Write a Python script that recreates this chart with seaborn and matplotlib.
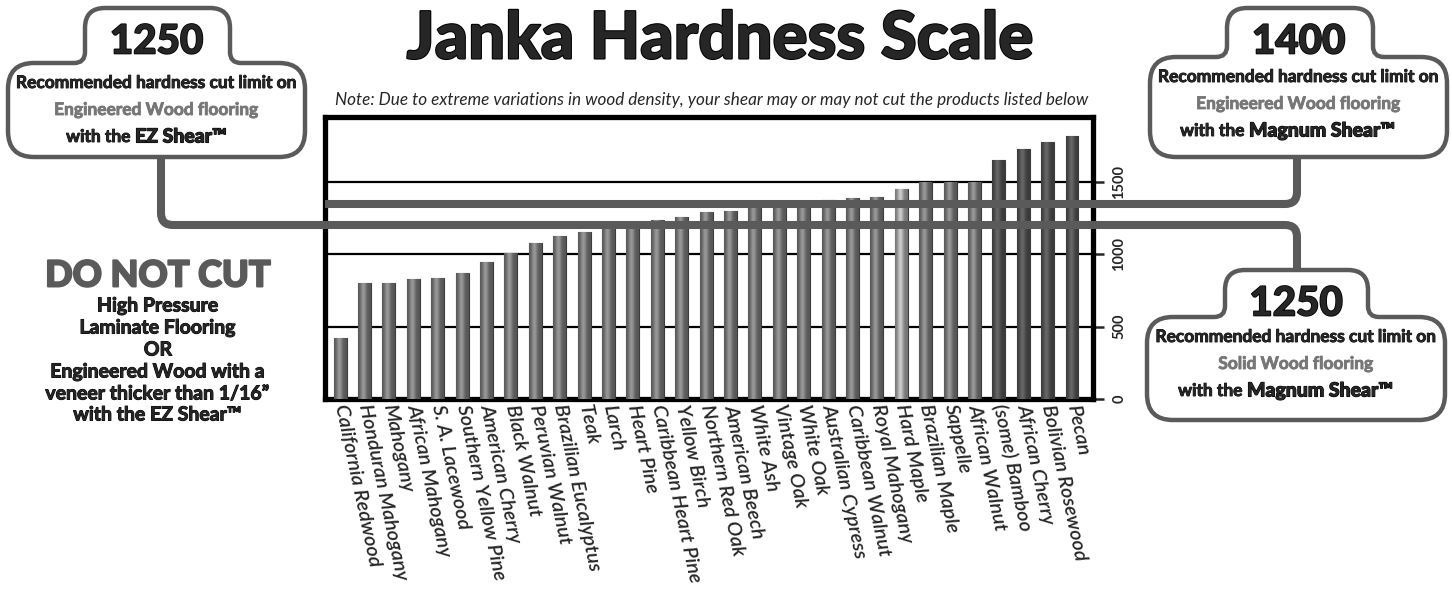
import numpy as np
import pandas as pd
import seaborn as sns
import matplotlib.pyplot as plt
import matplotlib.colors as mcolors
import matplotlib.patheffects as pe
from matplotlib.path import Path
from matplotlib.patches import PathPatch

# wood species and janka hardness (lbf)
woods = ['California Redwood', 'Honduran Mahogany', 'Mahogany', 'African Mahogany',
         'S. A. Lacewood', 'Southern Yellow Pine', 'American Cherry', 'Black Walnut',
         'Peruvian Walnut', 'Brazilian Eucalyptus', 'Teak', 'Larch', 'Heart Pine',
         'Caribbean Heart Pine', 'Yellow Birch', 'Northern Red Oak', 'American Beech',
         'White Ash', 'Vintage Oak', 'White Oak', 'Australian Cypress', 'Caribbean Walnut',
         'Royal Mahogany', 'Hard Maple', 'Brazilian Maple', 'Sappelle', 'African Walnut',
         '(some) Bamboo', 'African Cherry', 'Bolivian Rosewood', 'Pecan']
hardness = [420, 800, 800, 830, 840, 870, 950, 1010, 1080, 1125, 1155, 1200, 1225,
            1240, 1260, 1290, 1300, 1320, 1320, 1360, 1375, 1390, 1400, 1450, 1500,
            1500, 1500, 1650, 1730, 1780, 1820]
tones = ['mid'] * 23 + ['light'] + ['mid'] * 3 + ['dark'] * 4
y_ticks = [0, 500, 1000, 1500]

tone_colors = {'mid': '#838383', 'light': '#b0b0b0', 'dark': '#585858'}
line_gray = '#5a5a5a'

title = 'Janka Hardness Scale'
note = ('Note: Due to extreme variations in wood density, your shear may or may not '
        'cut the products listed below')
dnc_head = 'DO NOT CUT'
dnc_lines = ['High Pressure', 'Laminate Flooring', 'OR', 'Engineered Wood with a',
             'veneer thicker than 1/16\u201d', 'with the EZ Shear\u2122']

callout_nums = ['1250', '1400', '1250']
callout_floor = ['Engineered Wood flooring', 'Engineered Wood flooring', 'Solid Wood flooring']
callout_shear = ['EZ Shear', 'Magnum Shear', 'Magnum Shear']

sns.set_style('white')
plt.rcParams['font.family'] = ['Lato', 'DejaVu Sans']


def heavy(w, c='black'):
    return [pe.withStroke(linewidth=w, foreground=c)]


fig = plt.figure(figsize=(14.52, 6.04), dpi=100)
W, H = 1452, 604
ax = fig.add_axes([325 / W, 1 - 399 / H, (1093 - 325) / W, (399 - 117) / H])

df = pd.DataFrame({'wood': woods, 'hardness': hardness})
palette = [tone_colors[t] for t in tones]
sns.barplot(data=df, x='wood', y='hardness', hue='wood', palette=palette, legend=False,
            width=0.53, edgecolor='#3c3c3c', linewidth=0.8, ax=ax, zorder=3)

# cylinder shading on each bar
t = np.linspace(0, 1, 64)
shade = 0.66 + 0.5 * np.exp(-((t - 0.42) / 0.24) ** 2)
for patch, tone in zip(ax.patches, tones):
    base = np.array(mcolors.to_rgb(tone_colors[tone]))
    img = np.clip(base[None, None, :] * shade[None, :, None], 0, 1)
    x0, w, h = patch.get_x(), patch.get_width(), patch.get_height()
    im = ax.imshow(img, extent=[x0, x0 + w, 0, h], aspect='auto', zorder=3.5,
                   interpolation='bilinear')
    im.set_clip_path(patch)

ax.set_xlim(-0.62, 30.86)
ax.set_ylim(0, 1950)
ax.set_xlabel('')
ax.set_ylabel('')
ax.set_yticks(y_ticks)
ax.set_axisbelow(True)
ax.yaxis.grid(True, color='black', lw=1.6)
ax.xaxis.grid(False)
for s in ax.spines.values():
    s.set_visible(True)
    s.set_color('black')
    s.set_linewidth(3.8)

ax.yaxis.tick_right()
ax.tick_params(axis='y', direction='out', length=8, width=1.8, pad=6, labelsize=10.5,
               labelrotation=90, right=True, left=False)
for lab in ax.get_yticklabels():
    lab.set_fontweight('bold')
    lab.set_va('center')
ax.tick_params(axis='x', length=0, pad=4)
ax.set_xticks(range(len(woods)))
ax.set_xticklabels(woods, rotation=-78, ha='left', va='center', rotation_mode='anchor',
                   fontstyle='italic', fontsize=14.5, fontweight='semibold')

# overlay in pixel coords for the callouts
ov = fig.add_axes([0, 0, 1, 1], zorder=5)
ov.set_xlim(0, W)
ov.set_ylim(H, 0)
ov.axis('off')


def rounded(pts, radii, closed=True):
    verts, codes = [], []
    n = len(pts)
    for i in range(n):
        p = np.array(pts[i], float)
        if not closed and (i == 0 or i == n - 1):
            verts.append(p)
            codes.append(Path.MOVETO if i == 0 else Path.LINETO)
            continue
        prev = np.array(pts[i - 1], float)
        nxt = np.array(pts[(i + 1) % n], float)
        r = radii[i]
        a = p + (prev - p) / np.linalg.norm(prev - p) * r
        b = p + (nxt - p) / np.linalg.norm(nxt - p) * r
        verts.append(a)
        codes.append(Path.MOVETO if (closed and i == 0) else Path.LINETO)
        verts += [p, b]
        codes += [Path.CURVE3, Path.CURVE3]
    if closed:
        verts.append(verts[0])
        codes.append(Path.CLOSEPOLY)
    return Path(verts, codes)


# connector lines
for pts in [[(325, 204), (1297, 204), (1297, 157)],
            [(161, 157), (161, 225), (1297, 225), (1297, 272)]]:
    ov.add_patch(PathPatch(rounded(pts, [12] * len(pts), closed=False), fill=False,
                           edgecolor=line_gray, lw=5.8, capstyle='butt', zorder=2))

boxes = [((8, 63, 305, 157), (85, 8, 230)),
         ((1150, 57, 1447, 157), (1227, 8, 1373)),
         ((1147, 317, 1445, 420), (1225, 270, 1368))]
for i, ((x0, y0, x1, y1), (tx0, ty, tx1)) in enumerate(boxes):
    pts = [(x0, y0), (tx0, y0), (tx0, ty), (tx1, ty), (tx1, y0), (x1, y0), (x1, y1), (x0, y1)]
    rad = [26, 11, 20, 20, 11, 26, 26, 26]
    ov.add_patch(PathPatch(rounded(pts, rad), facecolor='white', edgecolor=line_gray,
                           lw=3.2, zorder=3))
    cx = (x0 + x1) / 2
    ov.text(cx, ty + 34, callout_nums[i], ha='center', va='center', fontsize=29,
            fontweight='black', zorder=4, path_effects=heavy(1.2))
    ov.text(cx, y0 + 20, 'Recommended hardness cut limit on', ha='center', va='center',
            fontsize=12.5, fontweight='bold', zorder=4, path_effects=heavy(0.6))
    ov.text(cx, y0 + 47, callout_floor[i], ha='center', va='center', fontsize=12.5,
            fontweight='bold', color='#777777', zorder=4, path_effects=heavy(0.6, '#777777'))
    split = tx0 + 50 if i == 0 else tx0 + 22
    ov.text(split, y0 + 74, 'with the ', ha='right', va='center', fontsize=12.5,
            fontweight='bold', zorder=4, path_effects=heavy(0.6))
    ov.text(split, y0 + 74, callout_shear[i] + '\u2122', ha='left', va='center',
            fontsize=14, fontweight='black', zorder=4, path_effects=heavy(0.8))

ov.text(720, 40, title, ha='center', va='center', fontsize=47, fontweight='black',
        path_effects=heavy(1.5))
ov.text(712, 100, note, ha='center', va='center', fontsize=12.3, fontstyle='italic')
ov.text(158, 276, dnc_head, ha='center', va='center', fontsize=26, fontweight='black',
        color=line_gray, path_effects=heavy(1.4, line_gray))
for y, line in zip([306, 328, 350, 372, 394, 415], dnc_lines):
    ov.text(158, y, line, ha='center', va='center', fontsize=14, fontweight='bold',
            path_effects=heavy(0.7))

fig.savefig('out.png', dpi=100)
